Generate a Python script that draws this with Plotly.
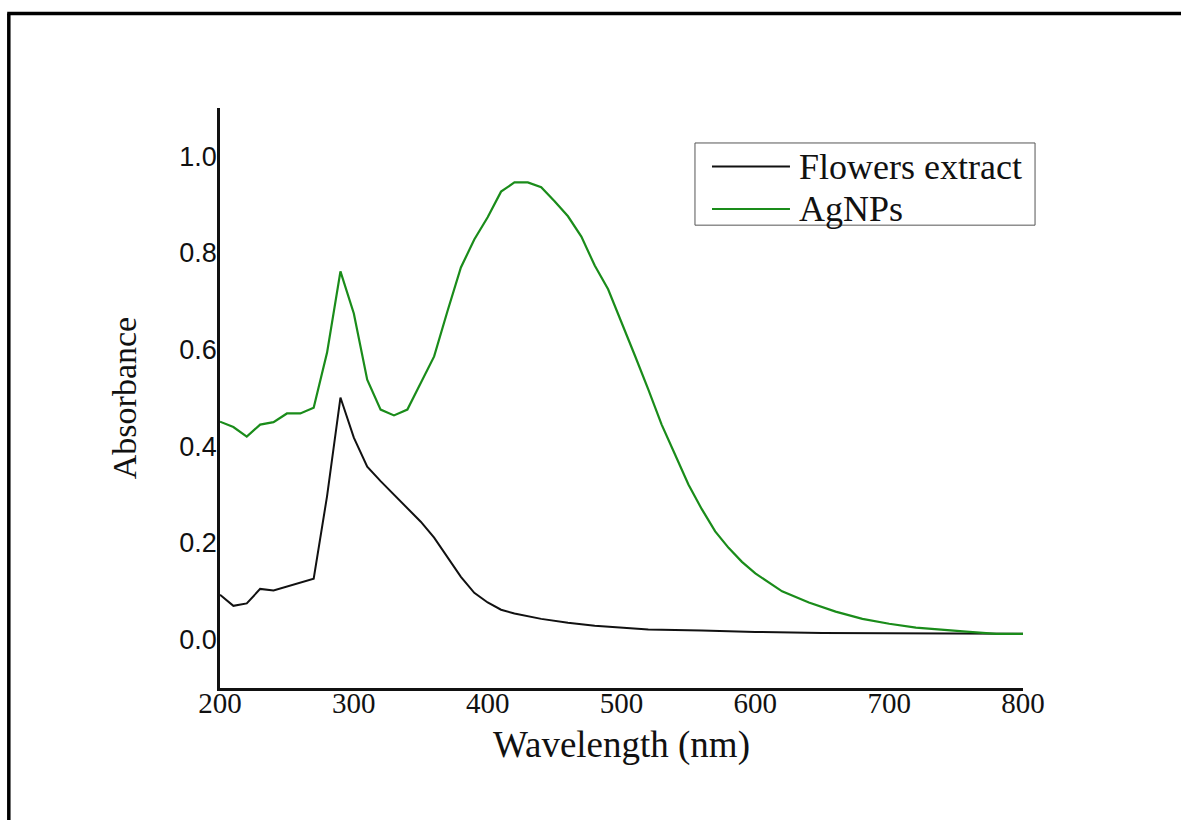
import plotly.graph_objects as go

wl_agnps = [200, 210, 220, 230, 240, 250, 260, 270, 280, 290, 300, 310, 320, 330, 340, 350, 360, 370, 380, 390,
            400, 410, 420, 430, 440, 450, 460, 470, 480, 490, 500, 510, 520, 530, 540, 550, 560, 570, 580, 590,
            600, 620, 640, 660, 680, 700, 720, 740, 760, 780, 800]
abs_agnps = [0.451, 0.44, 0.42, 0.445, 0.45, 0.468, 0.468, 0.48, 0.594, 0.762, 0.675, 0.538, 0.476, 0.464, 0.476,
             0.532, 0.586, 0.68, 0.77, 0.828, 0.874, 0.927, 0.946, 0.946, 0.936, 0.907, 0.876, 0.834, 0.774, 0.725,
             0.658, 0.588, 0.518, 0.445, 0.383, 0.321, 0.27, 0.224, 0.19, 0.161, 0.137, 0.1, 0.077, 0.058, 0.043,
             0.033, 0.025, 0.02, 0.016, 0.012, 0.012]

wl_extract = [200, 210, 220, 230, 240, 250, 260, 270, 280, 290, 300, 310, 320, 330, 340, 350, 360, 370, 380, 390,
              400, 410, 420, 440, 460, 480, 500, 520, 560, 600, 650, 700, 750, 800]
abs_extract = [0.093, 0.07, 0.075, 0.105, 0.102, 0.11, 0.118, 0.126, 0.297, 0.501, 0.418, 0.358, 0.328, 0.30,
               0.273, 0.244, 0.211, 0.17, 0.13, 0.097, 0.077, 0.062, 0.054, 0.043, 0.035, 0.029, 0.025, 0.021,
               0.019, 0.016, 0.014, 0.013, 0.013, 0.012]

x_ticks = [200, 300, 400, 500, 600, 700, 800]
y_ticks = [0.0, 0.2, 0.4, 0.6, 0.8, 1.0]
y_tick_labels = ["0.0", "0.2", "0.4", "0.6", "0.8", "1.0"]

series_names = ["Flowers extract", "AgNPs"]
series_colors = ["#111111", "#1a8c1a"]

serif = "Liberation Serif, Times New Roman, serif"
sans = "Liberation Sans, Arial, sans-serif"

fig = go.Figure()
fig.add_trace(go.Scatter(x=wl_extract, y=abs_extract, mode="lines", name=series_names[0],
                         line=dict(color=series_colors[0], width=2)))
fig.add_trace(go.Scatter(x=wl_agnps, y=abs_agnps, mode="lines", name=series_names[1],
                         line=dict(color=series_colors[1], width=2.2)))

# Legend drawn as layout decoration (box, line samples, labels)
leg_x0, leg_x1, leg_y0, leg_y1 = 0.5915, 1.015, 0.798, 0.9397
sample_x0, sample_x1, text_x = 0.6127, 0.7098, 0.7186
row_y = [0.899, 0.826]

shapes = [
    dict(type="line", xref="paper", yref="paper", x0=-0.263, x1=-0.263, y0=1.163, y1=-0.3,
         line=dict(color="black", width=3.5)),
    dict(type="line", xref="paper", yref="paper", x0=-0.265, x1=1.3, y0=1.163, y1=1.163,
         line=dict(color="black", width=3.5)),
    dict(type="rect", xref="paper", yref="paper", x0=leg_x0, x1=leg_x1, y0=leg_y0, y1=leg_y1,
         line=dict(color="#555555", width=1), fillcolor="white", layer="above"),
]
annotations = []
for name, color, ry in zip(series_names, series_colors, row_y):
    shapes.append(dict(type="line", xref="paper", yref="paper", x0=sample_x0, x1=sample_x1, y0=ry, y1=ry,
                       line=dict(color=color, width=2), layer="above"))
    annotations.append(dict(xref="paper", yref="paper", x=text_x, y=ry, xanchor="left", yanchor="middle",
                            text=name, showarrow=False,
                            font=dict(family=serif, size=36, color="#111111")))

fig.update_layout(
    width=1181, height=820,
    margin=dict(l=220, r=158, t=108, b=132),
    paper_bgcolor="white", plot_bgcolor="white",
    showlegend=False,
    xaxis=dict(range=[200, 800], tickvals=x_ticks, ticks="", showgrid=False, zeroline=False,
               showline=True, linecolor="#111111", linewidth=2.5, ticklabelstandoff=-13,
               tickfont=dict(family=serif, size=29, color="#111111"),
               title=dict(text="Wavelength (nm)", font=dict(family=serif, size=37, color="#111111"), standoff=14)),
    yaxis=dict(range=[-0.1, 1.1], tickvals=y_ticks, ticktext=y_tick_labels, ticks="", showgrid=False,
               zeroline=False, showline=True, linecolor="#111111", linewidth=2.5, ticklabelstandoff=-5,
               tickfont=dict(family=sans, size=27, color="#111111"),
               title=dict(text="Absorbance", font=dict(family=serif, size=34, color="#111111"), standoff=33)),
    shapes=shapes,
    annotations=annotations,
)

fig.write_html("out.html")
